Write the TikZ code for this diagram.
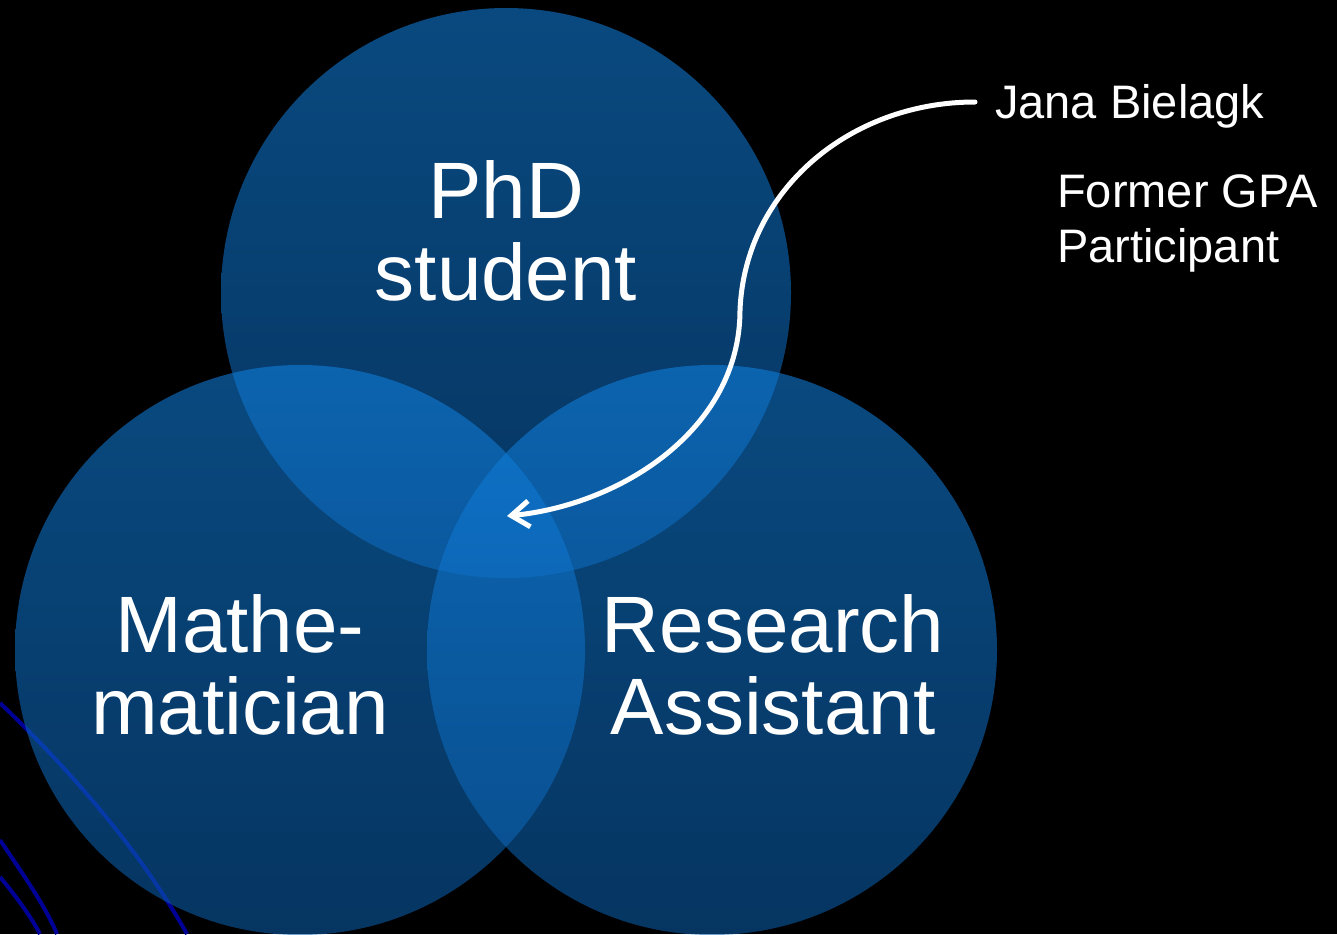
\documentclass[tikz,border=0pt]{standalone}
\usepackage{fontspec}
\setmainfont{Liberation Sans}
\usetikzlibrary{arrows.meta}
\definecolor{ringtop}{RGB}{17,130,225}
\definecolor{ringbot}{RGB}{11,94,172}
\definecolor{swirl}{RGB}{0,0,150}

\begin{document}
\begin{tikzpicture}[x=1pt,y=-1pt,
    ring/.style={top color=ringtop,bottom color=ringbot,fill opacity=0.57},
    bigtext/.style={text=white,align=center,inner sep=0pt,font=\fontsize{80}{82}\selectfont},
    smalltext/.style={text=white,inner sep=0pt,font=\fontsize{47}{55}\selectfont}]
    \fill[black] (0,0) rectangle (1337,934);
    \useasboundingbox (0,0) rectangle (1337,934);

    \draw[swirl,line width=4pt] (0,703) .. controls (70,770) and (140,850) .. (187,934);
    \draw[swirl,line width=4pt] (0,840) .. controls (20,870) and (45,905) .. (57,934);
    \draw[swirl,line width=4pt] (0,877) .. controls (15,895) and (30,915) .. (40,934);

    \foreach \x/\y in {506/293,300/650,712/650}{
        \shade[ring] (\x,\y) circle[radius=285pt];
    }

    \node[bigtext] (phd) at (506,231) {PhD\\student};
    \node[bigtext] (math) at (240,665) {Mathe-\\matician};
    \node[bigtext] (ra) at (773,665) {Research\\Assistant};
    \node[smalltext,anchor=base west] (jana) at (995,118) {Jana Bielagk};
    \node[smalltext,align=left,anchor=west] (gpa) at (1057,223) {Former GPA\\Participant};

    \coordinate (middle) at (507,516);
    \draw[white,line width=5pt,line cap=round,-{Straight Barb[length=18pt,width=26pt]}]
        ([shift={(-20,-16)}]jana.base west) .. controls (850,102) and (745,190) .. (740,310)
        .. controls (740,430) and (620,505) .. (middle);
\end{tikzpicture}
\end{document}
